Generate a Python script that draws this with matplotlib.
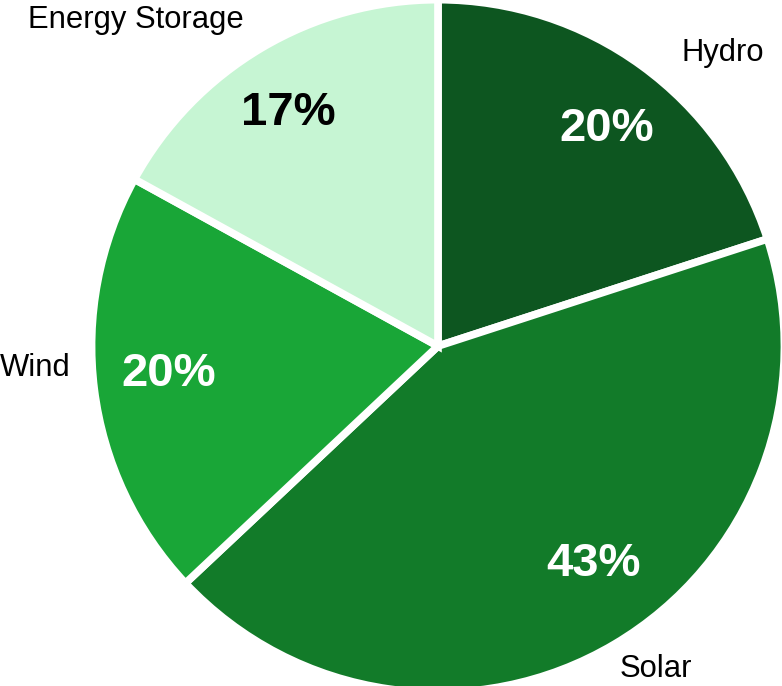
import numpy as np
import matplotlib.pyplot as plt

plt.rcParams['font.family'] = ['Liberation Sans', 'DejaVu Sans']

labels = ['Hydro', 'Solar', 'Wind', 'Energy Storage']
shares = [20, 43, 20, 17]
colors = ['#0d5620', '#127b29', '#19a637', '#c6f5d3']
pct_colors = ['white', 'white', 'white', 'black']

# small nudges (pixels, x right / y down) to match the label placement
label_nudge = [(28, 4), (-5, 7), (-3, -24), (-7, -10)]
pct_nudge = [(8, 4), (16, -18), (2, -6), (-10, 2)]

fig = plt.figure(figsize=(7.82, 6.86), dpi=100)
ax = fig.add_axes([0, 0, 1, 1])

wedges, texts, autotexts = ax.pie(
    shares, labels=labels, colors=colors, startangle=90, counterclock=False,
    autopct='%d%%', pctdistance=0.79, labeldistance=1.06, radius=1.01,
    wedgeprops=dict(edgecolor='white', linewidth=5.5),
    textprops=dict(fontsize=22.3))

px = 1 / 343.0
for t, (dx, dy) in zip(texts, label_nudge):
    x, y = t.get_position()
    t.set_position((x + dx * px, y - dy * px))

for t, c, (dx, dy) in zip(autotexts, pct_colors, pct_nudge):
    t.set_color(c)
    t.set_fontsize(34)
    t.set_fontweight('bold')
    x, y = t.get_position()
    t.set_position((x + dx * px, y - dy * px))

ax.set_aspect('equal')
ax.set_xlim(-1.277, 1.003)
ax.set_ylim(-0.991, 1.009)
ax.axis('off')

fig.savefig('out.png', dpi=100)
